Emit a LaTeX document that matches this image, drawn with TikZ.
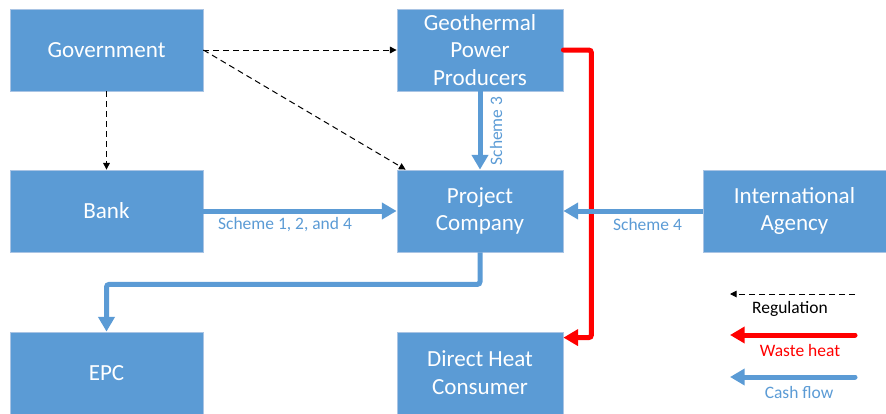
\documentclass[tikz,border=0pt]{standalone}
\usepackage{fontspec}
\setmainfont{Carlito}
\usetikzlibrary{arrows.meta}
\definecolor{boxblue}{HTML}{5B9BD5}
\definecolor{boxedge}{HTML}{A9C4E4}
\definecolor{wred}{HTML}{FF0000}
\begin{document}
\begin{tikzpicture}[x=0.75pt,y=-0.75pt,
  box/.style={fill=boxblue, draw=boxedge, line width=0.6pt, text=white,
    font=\fontsize{17.3}{20.8}\selectfont, align=center, inner sep=0pt,
    minimum height=61.5pt},
  widebox/.style={box, minimum width=144.75pt},
  midbox/.style={box, minimum width=124.5pt},
  intlbox/.style={box, minimum width=137.25pt},
  cash/.style={draw=boxblue, line width=3.75pt, rounded corners=2pt,
    -{Triangle[length=11pt,width=12pt]}},
  waste/.style={draw=wred, line width=3.75pt, rounded corners=2pt, line cap=round,
    -{Triangle[length=11pt,width=12pt]}},
  reg/.style={draw=black, line width=0.75pt, dash pattern=on 4.5pt off 3pt,
    -{Triangle[length=5pt,width=5pt]}},
  lbl/.style={text=boxblue, font=\fontsize{13.1}{15}\selectfont, inner sep=0pt},
]
\useasboundingbox (0,0) rectangle (886,414);

\node[widebox] (gov) at (106.5,50) {Government};
\node[midbox] (geo) at (480,50) {Geothermal\\Power\\Producers};
\node[widebox] (bank) at (106.5,211) {Bank};
\node[midbox] (pc) at (480,211) {Project\\Company};
\node[intlbox] (intl) at (794.5,211) {International\\Agency};
\node[widebox] (epc) at (106.5,373) {EPC};
\node[midbox] (dhc) at (480,373) {Direct Heat\\Consumer};

% regulation
\draw[reg] (gov.east) -- (geo.west);
\draw[reg] (gov.east) -- ([xshift=6.75pt]pc.north west);
\draw[reg] (gov.south) -- (bank.north);

% waste heat
\draw[waste] (geo.east) -- ++(28,0) |- ([yshift=-4.5pt]dhc.north east);

% cash flows
\draw[cash] (geo.south) -- (pc.north);
\draw[cash] (bank.east) -- (pc.west);
\draw[cash] (intl.west) -- (pc.east);
\draw[cash] (pc.south) -- ++(0,32) -| (epc.north);

\node[lbl] (l124) at (285,225) {Scheme 1, 2, and 4};
\node[lbl] (l4) at (647.5,224) {Scheme 4};
\node[lbl, rotate=90] (l3) at (496,131) {Scheme 3};

% legend
\coordinate (ra) at (855,294);
\coordinate (rb) at (730,294);
\coordinate (wa) at (855,335);
\coordinate (wb) at (730,335);
\coordinate (ca) at (855,377);
\coordinate (cb) at (730,377);
\draw[reg] (ra) -- (rb);
\draw[waste] (wa) -- (wb);
\draw[cash, line cap=round] (ca) -- (cb);
\node[font=\fontsize{13.1}{15}\selectfont, inner sep=0pt] (lreg) at (790,309) {Regulation};
\node[font=\fontsize{13.1}{15}\selectfont, text=wred, inner sep=0pt] (lwh) at (800,350) {Waste heat};
\node[lbl] (lcf) at (799,392) {Cash flow};
\end{tikzpicture}
\end{document}
